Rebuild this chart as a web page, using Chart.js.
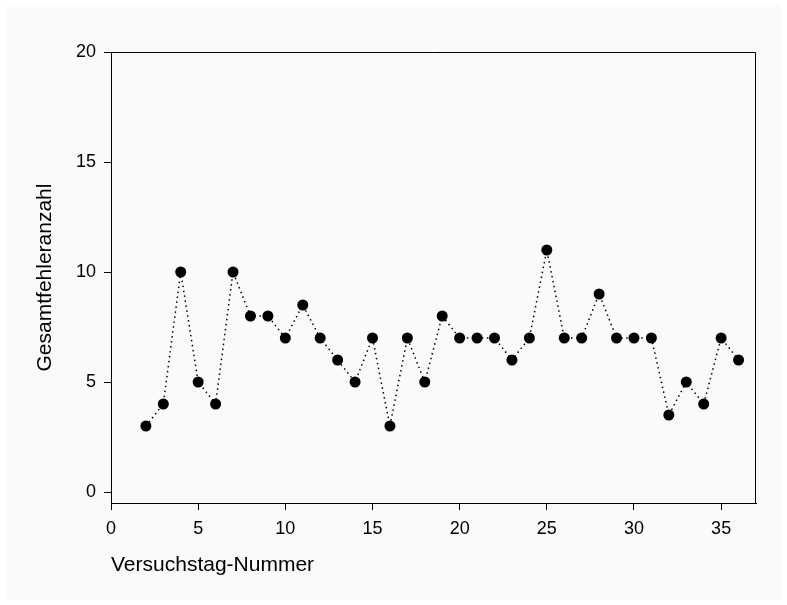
<!DOCTYPE html>
<html>
<head>
<meta charset="utf-8">
<script src="https://cdn.jsdelivr.net/npm/chart.js@4/dist/chart.umd.min.js"></script>
<style>
  html, body { margin: 0; padding: 0; background: #ffffff; }
  #wrap { width: 787px; height: 605px; }
</style>
</head>
<body>
<div id="wrap"><canvas id="chart" width="787" height="605"></canvas></div>
<script>
// Versuchstag (x) and Gesamtfehleranzahl (y)
const days = [2, 3, 4, 5, 6, 7, 8, 9, 10, 11, 12, 13, 14, 15, 16, 17, 18, 19,
  20, 21, 22, 23, 24, 25, 26, 27, 28, 29, 30, 31, 32, 33, 34, 35, 36];
const errors = [3, 4, 10, 5, 4, 10, 8, 8, 7, 8.5, 7, 6, 5, 7, 3, 7, 5, 8,
  7, 7, 7, 6, 7, 11, 7, 7, 9, 7, 7, 7, 3.5, 5, 4, 7, 6];
const xTicks = [0, 5, 10, 15, 20, 25, 30, 35];
const yTicks = [0, 5, 10, 15, 20];

const font = "'Liberation Sans', Arial, sans-serif";

// page background (off-white panel with thin white margin)
const backgroundPlugin = {
  id: "panelBg",
  beforeDraw(chart) {
    const ctx = chart.ctx;
    ctx.save();
    ctx.fillStyle = "#ffffff";
    ctx.fillRect(0, 0, chart.width, chart.height);
    ctx.fillStyle = "#fafaf8";
    ctx.fillRect(6, 5, chart.width - 12, chart.height - 10);
    ctx.restore();
  },
};

// top and right edges of the plot box
const framePlugin = {
  id: "frame",
  afterDraw(chart) {
    const { left, right, top, bottom } = chart.chartArea;
    const ctx = chart.ctx;
    ctx.save();
    ctx.strokeStyle = "#000";
    ctx.lineWidth = 1;
    ctx.beginPath();
    ctx.moveTo(left, top + 0.5);
    ctx.lineTo(right - 0.5, top + 0.5);
    ctx.lineTo(right - 0.5, bottom);
    ctx.stroke();
    ctx.restore();
  },
};

new Chart(document.getElementById("chart"), {
  type: "line",
  data: {
    datasets: [
      {
        data: days.map((d, i) => ({ x: d, y: errors[i] })),
        borderColor: "#000",
        borderWidth: 1.5,
        borderDash: [1.5, 3.5],
        pointRadius: 5.5,
        pointBackgroundColor: "#000",
        pointBorderWidth: 0,
        tension: 0,
      },
    ],
  },
  options: {
    responsive: false,
    animation: false,
    layout: { padding: { left: 0, top: 52, right: 31, bottom: 0 } },
    plugins: { legend: { display: false }, tooltip: { enabled: false } },
    scales: {
      x: {
        type: "linear",
        min: 0,
        max: 37,
        afterBuildTicks: (s) => { s.ticks = xTicks.map((v) => ({ value: v })); },
        afterFit: (s) => { s.height = 102; },
        ticks: { color: "#000", padding: 8, font: { family: font, size: 18 } },
        grid: { drawOnChartArea: false, tickLength: 7, tickColor: "#000", tickWidth: 1 },
        border: { color: "#000", width: 1 },
        title: {
          display: true,
          text: "Versuchstag-Nummer",
          align: "start",
          color: "#000",
          font: { family: font, size: 21 },
          padding: { top: 0, bottom: 27 },
        },
      },
      y: {
        min: -0.5,
        max: 20,
        afterBuildTicks: (s) => { s.ticks = yTicks.map((v) => ({ value: v })); },
        afterFit: (s) => { s.width = 111; },
        ticks: { color: "#000", padding: 8, font: { family: font, size: 18 } },
        grid: { drawOnChartArea: false, tickLength: 7, tickColor: "#000", tickWidth: 1 },
        border: { color: "#000", width: 1 },
        title: {
          display: true,
          text: "Gesamtfehleranzahl",
          color: "#000",
          font: { family: font, size: 21 },
          padding: { top: 33, bottom: 0 },
        },
      },
    },
  },
  plugins: [backgroundPlugin, framePlugin],
});
</script>
</body>
</html>
